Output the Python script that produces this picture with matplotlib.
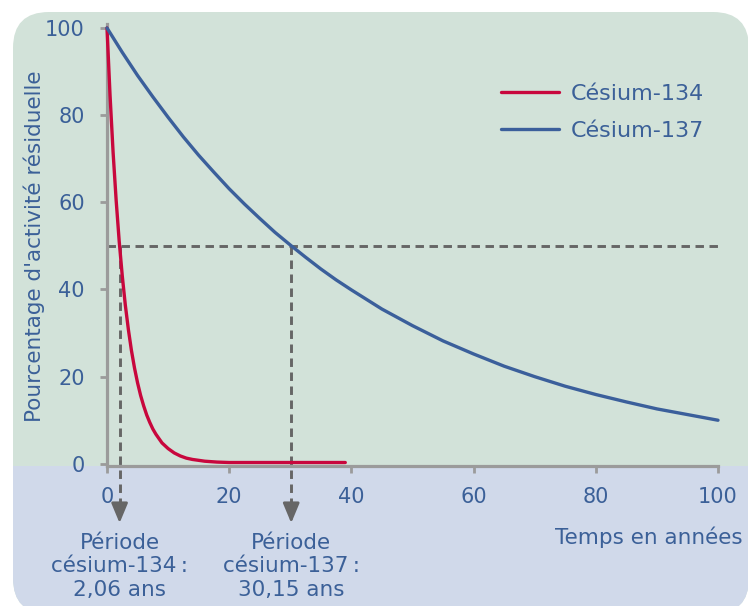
import matplotlib
matplotlib.use("Agg")
import matplotlib.pyplot as plt
from matplotlib.patches import FancyBboxPatch, Rectangle

plt.rcParams['font.family'] = ['DejaVu Sans']

# ---- data ----
years_137 = [0, 2.5, 5, 7.5, 10, 12.5, 15, 17.5, 20, 22.5, 25, 27.5, 30, 32.5, 35, 37.5, 40,
             45, 50, 55, 60, 65, 70, 75, 80, 85, 90, 95, 100]
cs137 = [100, 94.4, 89.1, 84.2, 79.5, 75.0, 70.8, 66.9, 63.1, 59.6, 56.3, 53.1, 50.2,
         47.4, 44.7, 42.2, 39.9, 35.5, 31.7, 28.2, 25.2, 22.4, 20.0, 17.8, 15.9,
         14.2, 12.6, 11.3, 10.0]
years_134 = [0, 0.5, 1, 1.5, 2, 2.5, 3, 3.5, 4, 4.5, 5, 5.5, 6, 6.5, 7, 7.5, 8, 9, 10,
             11, 12, 13, 14, 15, 16, 18, 20, 25, 30, 35, 39]
cs134 = [100, 84.5, 71.4, 60.4, 51.0, 43.1, 36.4, 30.8, 26.0, 22.0, 18.6, 15.7, 13.3,
         11.2, 9.5, 8.0, 6.8, 4.8, 3.5, 2.5, 1.8, 1.3, 1.0, 0.8, 0.6, 0.4, 0.3,
         0.3, 0.3, 0.3, 0.3]
series_names = ["Césium-134", "Césium-137"]
half_lives = [2.06, 30.15]
half_level = 50
period_labels = ["Période\ncésium-134\u2009:\n2,06 ans", "Période\ncésium-137\u2009:\n30,15 ans"]
x_ticks = [0, 20, 40, 60, 80, 100]
y_ticks = [0, 20, 40, 60, 80, 100]

# ---- style ----
RED = '#c8073d'
BLUE = '#3b5f9b'
TXT = '#3b6098'
GRAY = '#9b9b9b'
DASH = '#666666'
GREEN_BG = '#d2e2d9'
BLUE_BG = '#d0d9ea'

W, H = 748, 606
fig = plt.figure(figsize=(W / 100, H / 100), dpi=100)

# background panel (pixel coordinates)
bg = fig.add_axes([0, 0, 1, 1], zorder=0)
bg.set_xlim(0, W)
bg.set_ylim(H, 0)
bg.axis('off')
box = dict(boxstyle="round,pad=0,rounding_size=36")
g = FancyBboxPatch((13, 12), 736, 602, facecolor=GREEN_BG, edgecolor='none', **box)
bg.add_patch(g)
b = FancyBboxPatch((13, 12), 736, 602, facecolor=BLUE_BG, edgecolor='none', **box)
bg.add_patch(b)
clip = Rectangle((0, 465.5), W, 200, transform=bg.transData)
b.set_clip_path(clip)

# main axes
y0, y1 = -0.5, 101
ax = fig.add_axes([107 / W, (H - 466) / H, 611 / W, 442.4 / H], zorder=1)
ax.patch.set_alpha(0)
ax.set_xlim(0, 100)
ax.set_ylim(y0, y1)
for s in ['top', 'right']:
    ax.spines[s].set_visible(False)
for s in ['left', 'bottom']:
    ax.spines[s].set_color(GRAY)
    ax.spines[s].set_linewidth(2.3)
ax.set_xticks(x_ticks)
ax.set_yticks(y_ticks)
ax.tick_params(axis='both', color=GRAY, width=2, length=5, labelcolor=TXT, labelsize=15)
ax.tick_params(axis='x', pad=10)
ax.tick_params(axis='y', pad=11)

# dashed guide lines
ax.plot([0, 100], [half_level, half_level], color=DASH, lw=2.1, dashes=(2.9, 1.9), zorder=2)
for hl, lab in zip(half_lives, period_labels):
    ax.plot([hl, hl], [half_level, -9.5], color=DASH, lw=2.1, dashes=(2.9, 1.9),
            clip_on=False, zorder=2)
    ax.annotate('', xy=(hl, -13.6), xytext=(hl, -9.0),
                arrowprops=dict(arrowstyle='-|>,head_length=1.2,head_width=0.5',
                                color=DASH, lw=2, shrinkA=0, shrinkB=0, mutation_scale=10),
                annotation_clip=False)
    ax.text(hl, -15.9, lab, ha='center', va='top', color=TXT, fontsize=15.5,
            linespacing=1.2, clip_on=False)

# curves
ax.plot(years_134, cs134, color=RED, lw=2.4, label=series_names[0], clip_on=False,
        solid_capstyle='round', solid_joinstyle='round', zorder=3)
ax.plot(years_137, cs137, color=BLUE, lw=2.4, label=series_names[1], clip_on=False,
        solid_capstyle='round', solid_joinstyle='round', zorder=3)

leg = ax.legend(loc='upper left', bbox_to_anchor=(501 / W, 1 - 84 / H),
                bbox_transform=fig.transFigure, frameon=False, fontsize=16,
                handlelength=2.6, handletextpad=0.55, labelspacing=0.75,
                borderpad=0, borderaxespad=0)
for t in leg.get_texts():
    t.set_color(TXT)

fig.text(34 / W, 1 - 246 / H, "Pourcentage d'activité résiduelle", rotation=90,
         ha='center', va='center', color=TXT, fontsize=15.5)
fig.text(743 / W, 1 - 537 / H, "Temps en années", ha='right', va='center',
         color=TXT, fontsize=15.5)

fig.savefig('out.png', dpi=100)
